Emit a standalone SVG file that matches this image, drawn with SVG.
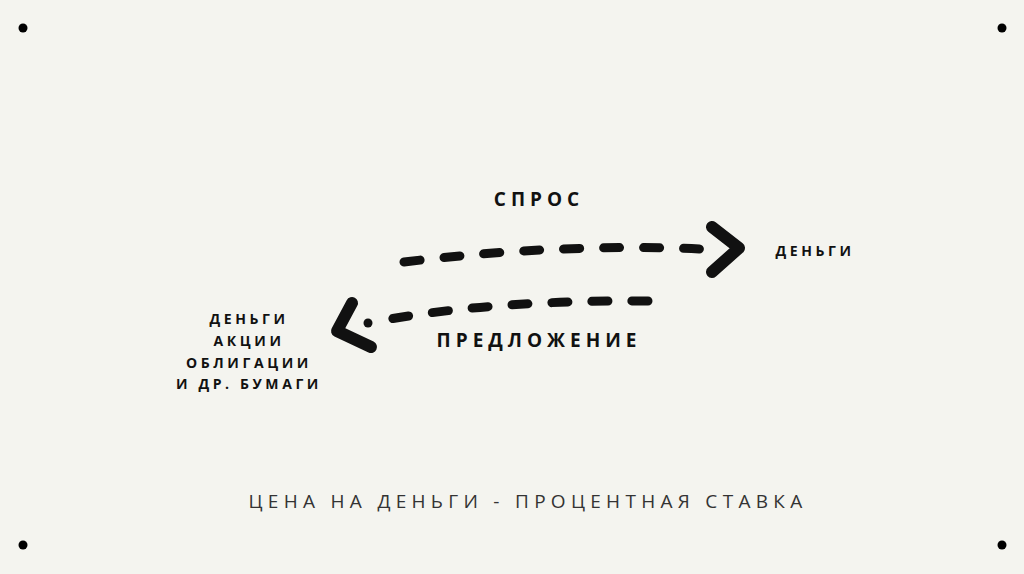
<svg xmlns="http://www.w3.org/2000/svg" width="1024" height="574" viewBox="0 0 1024 574">
<style>
.t{font-family:"Open Sans","Liberation Sans",sans-serif;font-weight:700;fill:#111;text-anchor:middle}
.dash{fill:none;stroke:#111;stroke-width:9;stroke-linecap:round;stroke-dasharray:16 24}
.chev{fill:none;stroke:#111;stroke-width:12;stroke-linecap:round;stroke-linejoin:round}
.dot{fill:#000}
</style>
<rect x="0" y="0" width="1024" height="574" fill="#f4f4ef"/>
<g id="corners">
<circle class="dot" cx="23" cy="28" r="4.5"/>
<circle class="dot" cx="1002" cy="28" r="4.5"/>
<circle class="dot" cx="23" cy="545" r="4.5"/>
<circle class="dot" cx="1002" cy="545" r="4.5"/>
</g>
<g id="connectors">
<path class="dash" d="M404,262 Q560,243 701,249"/>
<path class="chev" d="M712,227 L739,248 L712,272"/>
<path class="dash" d="M648,301 Q500,300 390,319"/>
<circle cx="368" cy="323" r="4.5" fill="#111"/>
<path class="chev" d="M352,303 L337,331 L371,347"/>
</g>
<g id="spros"><text class="t" x="539" y="206" font-size="19" letter-spacing="5">СПРОС</text></g>
<g id="dengi-right"><text class="t" x="815" y="256" font-size="14" letter-spacing="3.6">ДЕНЬГИ</text></g>
<g id="predlozhenie"><text class="t" x="539" y="347" font-size="19" letter-spacing="5">ПРЕДЛОЖЕНИЕ</text></g>
<g id="assets">
<text class="t" x="249" y="324" font-size="14" letter-spacing="3.6">ДЕНЬГИ</text>
<text class="t" x="249" y="346" font-size="14" letter-spacing="3.6">АКЦИИ</text>
<text class="t" x="249" y="368" font-size="14" letter-spacing="3.6">ОБЛИГАЦИИ</text>
<text class="t" x="249" y="389" font-size="14" letter-spacing="3.6">И ДР. БУМАГИ</text>
</g>
<g id="price"><text x="528" y="508" font-family="'Open Sans','Liberation Sans',sans-serif" font-size="19" letter-spacing="5.3" fill="#333" text-anchor="middle">ЦЕНА НА ДЕНЬГИ - ПРОЦЕНТНАЯ СТАВКА</text></g>
</svg>
